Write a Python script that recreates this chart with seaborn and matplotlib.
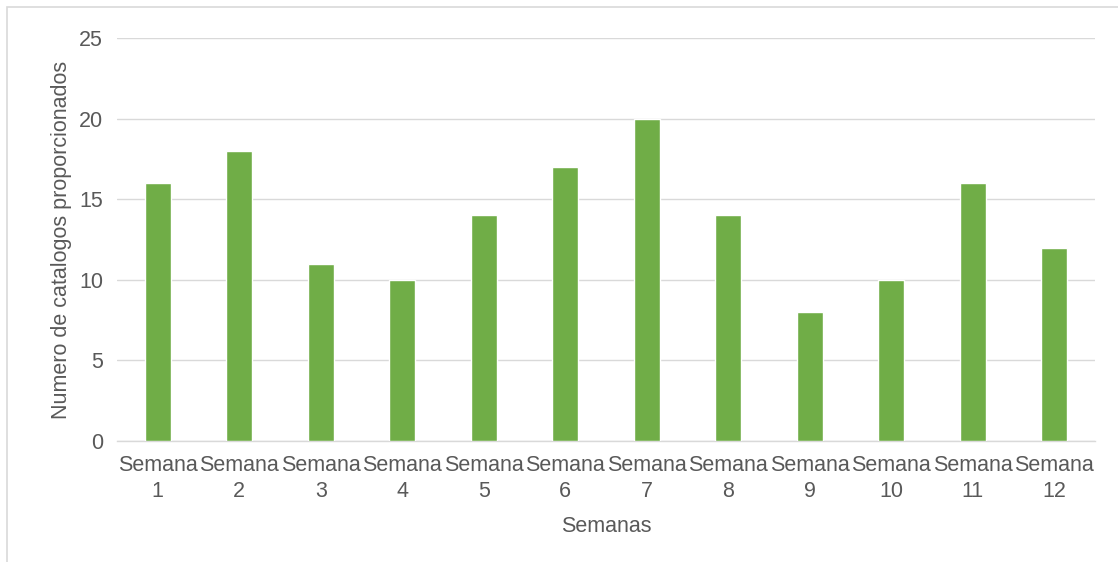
import matplotlib
matplotlib.use("Agg")
import matplotlib.pyplot as plt
import seaborn as sns
import pandas as pd
from matplotlib.patches import Rectangle

categories = [f"Semana\n{i}" for i in range(1, 13)]
values = [16, 18, 11, 10, 14, 17, 20, 14, 8, 10, 16, 12]
yticks = [0, 5, 10, 15, 20, 25]

sns.set_theme(style="white")
plt.rcParams['font.family'] = ['Liberation Sans', 'DejaVu Sans']

df = pd.DataFrame({"Semana": categories, "Valor": values})

fig = plt.figure(figsize=(11.18, 5.62), dpi=100)
ax = fig.add_axes([117/1118, (562-441)/562, (1095-117)/1118, (441-38)/562])

sns.barplot(data=df, x="Semana", y="Valor", color="#70AD47", width=0.32,
            saturation=1, ax=ax, zorder=3)

txt = "#595959"
fs = 15.5
ax.set_ylim(0, 25)
ax.set_yticks(yticks)
ax.set_xlim(-0.5, len(categories) - 0.5)
ax.yaxis.grid(True, color="#D9D9D9", linewidth=1, zorder=0)
ax.set_axisbelow(True)
for s in ["top", "right", "left"]:
    ax.spines[s].set_visible(False)
ax.spines["bottom"].set_color("#D9D9D9")
ax.spines["bottom"].set_linewidth(1)
ax.tick_params(axis="both", length=0, labelsize=fs, colors=txt)
ax.tick_params(axis="y", pad=10)
ax.tick_params(axis="x", pad=10)
for lbl in ax.get_xticklabels():
    lbl.set_linespacing(1.35)
ax.set_xlabel("Semanas", fontsize=fs, color=txt, labelpad=10)
ax.set_ylabel("Numero de catalogos proporcionados", fontsize=fs, color=txt, labelpad=5)

fig.patches.append(Rectangle((7/1118, -0.1), 1.2, (562-7)/562 + 0.1,
                             transform=fig.transFigure, fill=False,
                             edgecolor="#D9D9D9", linewidth=1.2))

fig.savefig("out.png", dpi=100)
